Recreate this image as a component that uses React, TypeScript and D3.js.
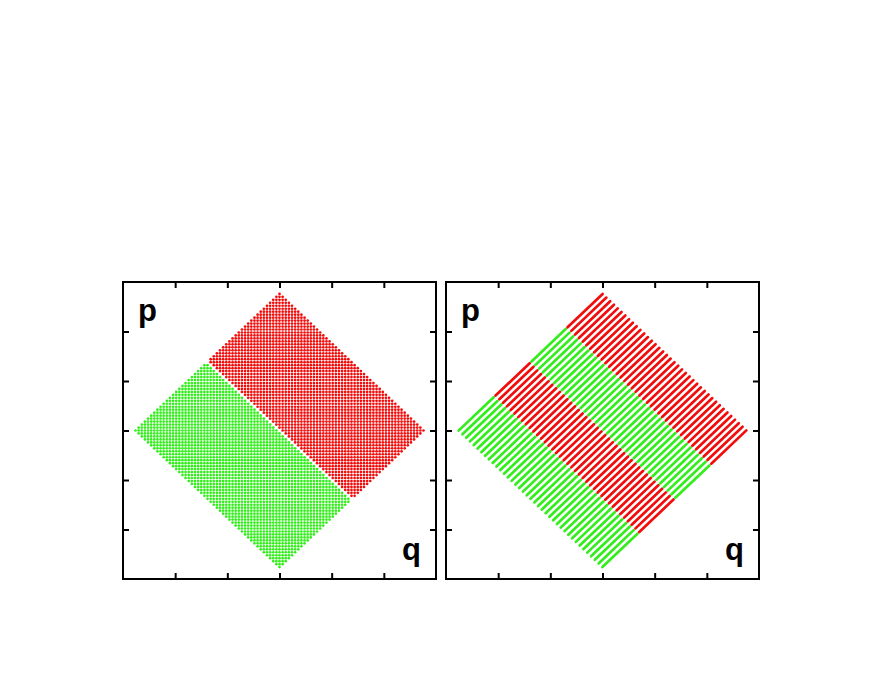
import React, { useEffect, useRef } from "react";
import * as d3 from "d3";

// axes: both panels share the same q/p range and unlabeled ticks
const axisDomain = [-3, 3];
const tickValues = [-2, -1, 0, 1, 2];

// lattice of the phase-space cells (|q| + |p| <= reach)
const leftReach = 2.78;
const rightReach = 2.76;
const dotStep = 0.06;
const stripStep = 0.145;

// colour bands along u = q + p, as fractions of the reach
const leftBandEdges = [-1, 0, 1];
const leftBandColors = ["#33ee1c", "#f20d0d"];
const rightBandEdges = [-1, -0.5, 0, 0.5, 1];
const rightBandColors = ["#33ee1c", "#f20d0d", "#33ee1c", "#f20d0d"];

const panelLefts = [123, 446];
const panelTop = 282;
const panelWidth = 313;
const panelHeight = 297;

function App() {
  const ref = useRef(null);

  useEffect(() => {
    const root = d3.select(ref.current);
    root.selectAll("*").remove();
    const svg = root
      .append("svg")
      .attr("width", 896)
      .attr("height", 692)
      .style("position", "absolute")
      .style("left", 0)
      .style("top", 0);

    panelLefts.forEach((left, idx) => {
      const g = svg.append("g").attr("transform", `translate(${left},${panelTop})`);
      const x = d3.scaleLinear().domain(axisDomain).range([0, panelWidth]);
      const y = d3.scaleLinear().domain(axisDomain).range([panelHeight, 0]);

      if (idx === 0) {
        // grid of dots, split in two halves by q + p
        const n = Math.floor(leftReach / dotStep + 0.01);
        const pts = [];
        for (let i = -n; i <= n; i++) {
          for (let j = -n; j <= n; j++) {
            if (Math.abs(i) + Math.abs(j) > n) continue;
            if (i + j === leftBandEdges[1]) continue;
            pts.push({ q: i * dotStep, p: j * dotStep, band: i + j < 0 ? 0 : 1 });
          }
        }
        g.selectAll("circle")
          .data(pts)
          .enter()
          .append("circle")
          .attr("cx", (d) => x(d.q))
          .attr("cy", (d) => y(d.p))
          .attr("r", 1.35)
          .attr("fill", (d) => leftBandColors[d.band]);
      } else {
        // strips at constant v = q - p, coloured by u = q + p
        const m = Math.floor(rightReach / stripStep + 0.01);
        const segs = [];
        for (let k = -m; k <= m; k++) {
          const v = k * stripStep;
          for (let b = 0; b < rightBandColors.length; b++) {
            const u0 = rightBandEdges[b] * rightReach + (b === 0 ? 0 : 0.035);
            const u1 =
              rightBandEdges[b + 1] * rightReach - (b === rightBandColors.length - 1 ? 0 : 0.035);
            segs.push({ v, u0, u1, color: rightBandColors[b] });
          }
        }
        g.selectAll("line")
          .data(segs)
          .enter()
          .append("line")
          .attr("x1", (d) => x((d.u0 + d.v) / 2))
          .attr("y1", (d) => y((d.u0 - d.v) / 2))
          .attr("x2", (d) => x((d.u1 + d.v) / 2))
          .attr("y2", (d) => y((d.u1 - d.v) / 2))
          .attr("stroke", (d) => d.color)
          .attr("stroke-width", 2.7)
          .attr("stroke-linecap", "round");
      }

      // inward ticks on all four sides
      const tick = 6;
      const axes = [
        { axis: d3.axisTop(x), t: "translate(0,0)" },
        { axis: d3.axisBottom(x), t: `translate(0,${panelHeight})` },
        { axis: d3.axisLeft(y), t: "translate(0,0)" },
        { axis: d3.axisRight(y), t: `translate(${panelWidth},0)` },
      ];
      axes.forEach(({ axis, t }) => {
        const a = g
          .append("g")
          .attr("transform", t)
          .call(axis.tickValues(tickValues).tickSize(-tick).tickSizeOuter(0).tickFormat(() => ""));
        a.select(".domain").remove();
        a.selectAll("line").attr("stroke", "#000").attr("stroke-width", 2);
      });

      g.append("rect")
        .attr("width", panelWidth)
        .attr("height", panelHeight)
        .attr("fill", "none")
        .attr("stroke", "#000")
        .attr("stroke-width", 2);

      g.append("text")
        .attr("x", 15)
        .attr("y", 39)
        .attr("font-family", "Liberation Sans, Arial, sans-serif")
        .attr("font-weight", "bold")
        .attr("font-size", 31)
        .text("p");
      g.append("text")
        .attr("x", 279)
        .attr("y", 278)
        .attr("font-family", "Liberation Sans, Arial, sans-serif")
        .attr("font-weight", "bold")
        .attr("font-size", 31)
        .text("q");
    });
  }, []);

  return <div ref={ref}></div>;
}

export default App;
